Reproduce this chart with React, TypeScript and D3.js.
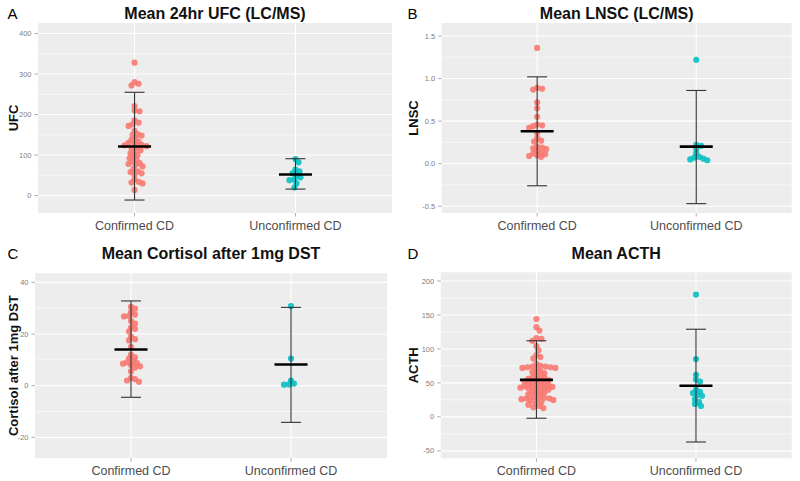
import React from "react";
import * as d3 from "d3";

const CATEGORIES = ["Confirmed CD", "Unconfirmed CD"];
const COLORS = ["#F8766D", "#00BFC4"];

// Panel A: Mean 24hr UFC (LC/MS)
const ufcConfirmed = [328, 280, 276, 272, 221, 210, 208, 186, 180, 176, 172, 160, 152, 150, 148, 142, 138, 133, 130, 128, 125, 124, 122, 118, 116, 112, 108, 104, 100, 96, 92, 88, 84, 80, 78, 76, 72, 66, 60, 58, 55, 52, 40, 34, 32, 30, 14];
const ufcUnconfirmed = [90, 82, 64, 60, 55, 50, 45, 40, 38, 30, 20];
const ufcMean = [121, 52];
const ufcLower = [-11, 16];
const ufcUpper = [255, 91];
const ufcTicks = [0, 100, 200, 300, 400];
const ufcMinor = [50, 150, 250, 350];

// Panel B: Mean LNSC (LC/MS)
const lnscConfirmed = [1.36, 0.89, 0.88, 0.87, 0.72, 0.65, 0.55, 0.46, 0.45, 0.44, 0.42, 0.36, 0.3, 0.27, 0.26, 0.2, 0.19, 0.18, 0.17, 0.15, 0.13, 0.12, 0.11, 0.1, 0.09, 0.08];
const lnscUnconfirmed = [1.22, 0.22, 0.21, 0.17, 0.12, 0.08, 0.07, 0.06, 0.05, 0.04];
const lnscMean = [0.38, 0.2];
const lnscLower = [-0.26, -0.47];
const lnscUpper = [1.02, 0.86];
const lnscTicks = [-0.5, 0, 0.5, 1, 1.5];
const lnscMinor = [-0.25, 0.25, 0.75, 1.25];

// Panel C: Mean Cortisol after 1mg DST
const dstConfirmed = [30.5, 29.8, 28.5, 27.5, 27, 26.8, 25, 24, 22.5, 22, 21, 19, 18, 17.5, 15, 12, 11, 10.5, 9.5, 9, 8.7, 8.5, 8, 7.5, 7, 5.5, 3, 2.5, 2, 1.5];
const dstUnconfirmed = [30.8, 10.5, 2, 0.8, 0.5, 0.4];
const dstMean = [14, 8.2];
const dstLower = [-4.5, -14.2];
const dstUpper = [32.8, 30.3];
const dstTicks = [-20, 0, 20, 40];
const dstMinor = [-10, 10, 30];

// Panel D: Mean ACTH
const acthConfirmed = [144, 132, 127, 116, 115, 112, 104, 98, 91, 88, 86, 78, 75, 74, 74, 73, 73, 72, 72, 70, 67, 66, 64, 62, 60, 58, 57, 56, 55, 54, 53, 52, 51, 50, 49, 48, 47, 46, 45, 44, 44, 43, 43, 42, 41, 40, 38, 37, 36, 34, 33, 31, 29, 28, 27, 27, 26, 26, 25, 24, 22, 20, 18, 16, 14, 13];
const acthUnconfirmed = [180, 85, 62, 55, 52, 40, 37, 35, 32, 31, 26, 22, 19, 16];
const acthMean = [54.5, 45.7];
const acthLower = [-2, -37];
const acthUpper = [112, 129];
const acthTicks = [-50, 0, 50, 100, 150, 200];
const acthMinor = [-25, 25, 75, 125, 175];

type PanelDef = {
  letter: string;
  title: string;
  ylab: string;
  groups: number[][];
  mean: number[];
  lower: number[];
  upper: number[];
  ticks: number[];
  minor: number[];
  domain: [number, number];
  box: { x0: number; x1: number; y0: number; y1: number };
  ox: number;
  oy: number;
  fmt: (v: number) => string;
};

const panels: PanelDef[] = [
  {
    letter: "A", title: "Mean 24hr UFC (LC/MS)", ylab: "UFC",
    groups: [ufcConfirmed, ufcUnconfirmed], mean: ufcMean, lower: ufcLower, upper: ufcUpper,
    ticks: ufcTicks, minor: ufcMinor, domain: [-43, 426],
    box: { x0: 38, x1: 392, y0: 23, y1: 213 }, ox: 0, oy: 0, fmt: (v) => String(v),
  },
  {
    letter: "B", title: "Mean LNSC (LC/MS)", ylab: "LNSC",
    groups: [lnscConfirmed, lnscUnconfirmed], mean: lnscMean, lower: lnscLower, upper: lnscUpper,
    ticks: lnscTicks, minor: lnscMinor, domain: [-0.58, 1.653],
    box: { x0: 441.7, x1: 791.7, y0: 23, y1: 213 }, ox: 400, oy: 0, fmt: (v) => v.toFixed(1),
  },
  {
    letter: "C", title: "Mean Cortisol after 1mg DST", ylab: "Cortisol after 1mg DST",
    groups: [dstConfirmed, dstUnconfirmed], mean: dstMean, lower: dstLower, upper: dstUpper,
    ticks: dstTicks, minor: dstMinor, domain: [-28, 43.5],
    box: { x0: 35, x1: 387, y0: 273.3, y1: 458 }, ox: 0, oy: 240, fmt: (v) => String(v),
  },
  {
    letter: "D", title: "Mean ACTH", ylab: "ACTH",
    groups: [acthConfirmed, acthUnconfirmed], mean: acthMean, lower: acthLower, upper: acthUpper,
    ticks: acthTicks, minor: acthMinor, domain: [-61, 212.8],
    box: { x0: 440.7, x1: 791.7, y0: 272.3, y1: 458.3 }, ox: 400, oy: 240, fmt: (v) => String(v),
  },
];

function swarm(values: number[], y: (v: number) => number, cx: number, d: number) {
  const placed: { x: number; y: number }[] = [];
  const order = values.map((v, i) => ({ v, i })).sort((a, b) => b.v - a.v);
  for (const { v } of order) {
    const py = y(v);
    let chosen = cx;
    for (let k = 0; k < 200; k++) {
      const off = k === 0 ? 0 : (k % 2 === 1 ? 1 : -1) * Math.ceil(k / 2) * 1;
      const px = cx + off;
      let ok = true;
      for (const p of placed) {
        const dx = p.x - px, dy = p.y - py;
        if (dx * dx + dy * dy < d * d) { ok = false; break; }
      }
      if (ok) { chosen = px; break; }
    }
    placed.push({ x: chosen, y: py });
  }
  return placed;
}

const FONT = "Liberation Sans, Arial, Helvetica, sans-serif";

function Panel({ p }: { p: PanelDef }) {
  const { box } = p;
  const x = d3.scalePoint<string>().domain(CATEGORIES).range([box.x0, box.x1]).padding(0.6);
  const y = d3.scaleLinear().domain(p.domain).range([box.y1, box.y0]);
  const cxMid = (box.x0 + box.x1) / 2;
  const cyMid = (box.y0 + box.y1) / 2;
  return (
    <g>
      <text x={p.ox + 7.5} y={p.oy + 18.5} fontSize={15} fontFamily={FONT} fill="#000">{p.letter}</text>
      <text x={cxMid} y={p.oy + 18.5} fontSize={16} fontWeight="bold" fontFamily={FONT} textAnchor="middle" fill="#111">{p.title}</text>
      <rect x={box.x0} y={box.y0} width={box.x1 - box.x0} height={box.y1 - box.y0} fill="#EDEDED" />
      {p.minor.map((t) => (
        <line key={"mn" + t} x1={box.x0} x2={box.x1} y1={y(t)} y2={y(t)} stroke="#fff" strokeWidth={0.6} />
      ))}
      {p.ticks.map((t) => (
        <line key={"mj" + t} x1={box.x0} x2={box.x1} y1={y(t)} y2={y(t)} stroke="#fff" strokeWidth={1.1} />
      ))}
      {CATEGORIES.map((c) => (
        <line key={"vg" + c} x1={x(c)} x2={x(c)} y1={box.y0} y2={box.y1} stroke="#fff" strokeWidth={1.1} />
      ))}
      {p.ticks.map((t) => (
        <g key={"tk" + t}>
          <line x1={box.x0 - 3.5} x2={box.x0} y1={y(t)} y2={y(t)} stroke="#999" strokeWidth={0.8} />
          <text x={box.x0 - 6.5} y={y(t)} dy="0.35em" fontSize={7.5} fontFamily={FONT} textAnchor="end" fill="#808080">{p.fmt(t)}</text>
        </g>
      ))}
      {CATEGORIES.map((c) => (
        <g key={"xt" + c}>
          <line x1={x(c)} x2={x(c)} y1={box.y1} y2={box.y1 + 3.5} stroke="#999" strokeWidth={0.8} />
          <text x={x(c)} y={box.y1 + 16.5} fontSize={12.5} fontFamily={FONT} textAnchor="middle" fill="#4D4D4D">{c}</text>
        </g>
      ))}
      <text transform={`translate(${p.ox + 17.5},${cyMid}) rotate(-90)`} fontSize={13} fontWeight="bold" fontFamily={FONT} textAnchor="middle" fill="#111">{p.ylab}</text>
      {p.groups.map((vals, gi) => {
        const pts = swarm(vals, (v) => y(v), x(CATEGORIES[gi]) as number, 4.2);
        return (
          <g key={"pts" + gi}>
            {pts.map((pt, i) => (
              <circle key={i} cx={pt.x} cy={pt.y} r={3.1} fill={COLORS[gi]} fillOpacity={0.88} />
            ))}
          </g>
        );
      })}
      {CATEGORIES.map((c, gi) => {
        const cx = x(c) as number;
        return (
          <g key={"eb" + c}>
            <line x1={cx} x2={cx} y1={y(p.lower[gi])} y2={y(p.upper[gi])} stroke="#333" strokeWidth={1.1} />
            <line x1={cx - 10} x2={cx + 10} y1={y(p.upper[gi])} y2={y(p.upper[gi])} stroke="#333" strokeWidth={1.1} />
            <line x1={cx - 10} x2={cx + 10} y1={y(p.lower[gi])} y2={y(p.lower[gi])} stroke="#333" strokeWidth={1.1} />
            <line x1={cx - 16.5} x2={cx + 16.5} y1={y(p.mean[gi])} y2={y(p.mean[gi])} stroke="#000" strokeWidth={2.6} />
          </g>
        );
      })}
    </g>
  );
}

export default function App() {
  return (
    <svg width={800} height={481} style={{ position: "absolute", left: 0, top: 0, background: "#fff" }}>
      <rect x={0} y={0} width={800} height={481} fill="#fff" />
      {panels.map((p) => (
        <Panel key={p.letter} p={p} />
      ))}
    </svg>
  );
}
